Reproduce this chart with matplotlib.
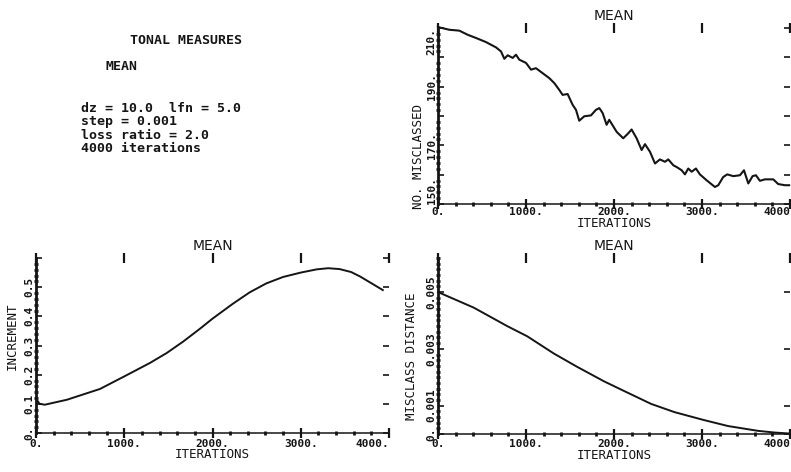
import matplotlib
matplotlib.use("Agg")
import matplotlib.pyplot as plt
from matplotlib.ticker import FixedLocator, FixedFormatter, MultipleLocator

MONO = "DejaVu Sans Mono"
INK = "#151515"

# ---- x axis (iterations), shared by all panels ----
iter_ticks = [0, 1000, 2000, 3000, 4000]
iter_labels_left = ["0.", "1000.", "2000.", "3000.", "4000."]
iter_labels_right = ["0.", "1000.", "2000.", "3000.", "4000"]

# ---- number misclassed ----
mis_iter = [0, 15, 129, 242, 337, 432, 545, 659, 716, 754, 792, 849, 886, 924,
            1000, 1057, 1113, 1189, 1265, 1322, 1378, 1416, 1473, 1530, 1568,
            1605, 1662, 1738, 1795, 1833, 1871, 1916, 1946, 2030, 2105, 2162,
            2200, 2257, 2314, 2352, 2409, 2466, 2522, 2579, 2617, 2674, 2712,
            2769, 2806, 2844, 2882, 2931, 2976, 3052, 3147, 3185, 3241, 3287,
            3355, 3431, 3477, 3526, 3575, 3613, 3658, 3715, 3810, 3866, 3942,
            3990]
mis_count = [210.5, 210.2, 209.4, 209.1, 207.7, 206.6, 205.2, 203.4, 202.0,
             199.5, 200.7, 199.8, 200.9, 199.2, 198.1, 195.8, 196.3, 194.6,
             192.9, 191.2, 188.9, 187.2, 187.5, 183.8, 182.1, 178.4, 179.9,
             180.2, 182.1, 182.7, 181.0, 177.0, 178.7, 174.6, 172.4, 174.1,
             175.4, 172.4, 168.4, 170.4, 167.8, 163.8, 165.2, 164.4, 165.2,
             163.2, 162.6, 161.5, 160.1, 162.1, 161.0, 162.1, 160.1, 158.1,
             155.8, 156.4, 159.2, 160.1, 159.5, 159.8, 161.5, 157.0, 159.5,
             159.8, 157.9, 158.4, 158.4, 156.8, 156.4, 156.4]
count_ticks = [150, 160, 170, 180, 190, 200, 210]
count_labels = ["150.", "", "170.", "", "190.", "", "210."]

# ---- increment ----
inc_iter = [0, 40, 100, 350, 725, 1000, 1290, 1480, 1670, 1860, 2000, 2230,
            2420, 2610, 2800, 3000, 3180, 3310, 3440, 3570, 3670, 3820, 3930]
inc_val = [0.118, 0.100, 0.097, 0.114, 0.151, 0.194, 0.240, 0.274, 0.314,
           0.358, 0.392, 0.443, 0.482, 0.513, 0.535, 0.550, 0.561, 0.565,
           0.562, 0.552, 0.537, 0.510, 0.490]
inc_ticks = [0.0, 0.1, 0.2, 0.3, 0.4, 0.5, 0.6]
inc_labels = ["0.", "0.1", "0.2", "0.3", "0.4", "0.5", ""]

# ---- misclass distance ----
dist_iter = [0, 407, 787, 1015, 1319, 1585, 1890, 2118, 2422, 2688, 3011,
             3296, 3639, 3829, 3981, 4000]
dist_val = [0.00500, 0.00445, 0.00380, 0.00344, 0.00283, 0.00236, 0.00185,
            0.00151, 0.00106, 0.00077, 0.00050, 0.00028, 0.00011, 0.00005,
            0.00002, 0.00002]
dist_ticks = [0.0, 0.001, 0.003, 0.005]
dist_labels = ["0.", "0.001", "0.003", "0.005"]

fig = plt.figure(figsize=(7.91, 4.72), dpi=100)
fig.patch.set_facecolor("white")


def px_axes(left, top, right, bottom):
    W, H = 791.0, 472.0
    return fig.add_axes([left / W, 1 - bottom / H, (right - left) / W,
                         (bottom - top) / H])


def style(ax, ylim, yticks, ylabels, yminor, ylabel, ylabel_xy, xlabels,
          xpad=1, xlabelpad=-1):
    ax.set_xlim(0, 4000)
    ax.set_ylim(*ylim)
    for s in ("top", "right"):
        ax.spines[s].set_visible(False)
    ax.spines["left"].set_linewidth(2.0)
    ax.spines["bottom"].set_linewidth(1.1)
    for s in ("left", "bottom"):
        ax.spines[s].set_color(INK)
    ax.xaxis.set_major_locator(FixedLocator(iter_ticks))
    ax.xaxis.set_major_formatter(FixedFormatter(xlabels))
    ax.xaxis.set_minor_locator(MultipleLocator(200))
    ax.yaxis.set_major_locator(FixedLocator(yticks))
    ax.yaxis.set_major_formatter(FixedFormatter(ylabels))
    ax.yaxis.set_minor_locator(MultipleLocator(yminor))
    ax.tick_params(which="major", direction="inout", length=7, width=1.6,
                   color=INK, top=True, right=True, labelsize=8,
                   labelcolor=INK)
    ax.tick_params(axis="x", which="major", pad=xpad)
    ax.tick_params(axis="y", which="major", pad=1)
    ax.tick_params(axis="y", which="major", right=True, direction="in",
                   length=4, width=1.2)
    ax.tick_params(which="minor", direction="inout", length=3, width=2.0,
                   color=INK, top=False, right=False)
    for lab in ax.get_xticklabels():
        lab.set_fontfamily(MONO)
        lab.set_fontweight("bold")
    ax.get_xticklabels()[-1].set_horizontalalignment("right")
    for lab in ax.get_yticklabels():
        lab.set_fontfamily(MONO)
        lab.set_fontweight("bold")
        lab.set_rotation(90)
        lab.set_verticalalignment("center")
    ax.set_xlabel("ITERATIONS", fontfamily=MONO, fontsize=9, color=INK,
                  labelpad=xlabelpad)
    ax.set_ylabel(ylabel, fontfamily=MONO, fontsize=9, color=INK,
                  va="center")
    ax.yaxis.set_label_coords(*ylabel_xy)
    ax.set_facecolor("none")
    ax.text(0.5, 1.03, "MEAN", transform=ax.transAxes, ha="center",
            va="bottom", fontsize=10, color=INK)


# number misclassed
ax1 = px_axes(438, 28, 790, 204)
ax1.plot(mis_iter, mis_count, color=INK, lw=1.5, clip_on=False)
style(ax1, (150, 210), count_ticks, count_labels, 2, "NO. MISCLASSED",
      (-0.055, 0.27), iter_labels_right, xpad=-1, xlabelpad=0)
ax1.get_yticklabels()[-1].set_verticalalignment("top")
ax1.get_yticklabels()[0].set_verticalalignment("bottom")

# increment
ax2 = px_axes(36, 258, 389, 433)
ax2.plot(inc_iter, inc_val, color=INK, lw=1.4, clip_on=False)
style(ax2, (0, 0.6), inc_ticks, inc_labels, 0.02, "INCREMENT",
      (-0.068, 0.55), iter_labels_left)

# misclass distance
ax3 = px_axes(438, 258, 790, 434)
ax3.plot(dist_iter, dist_val, color=INK, lw=1.4, clip_on=False)
style(ax3, (0, 0.0062), dist_ticks, dist_labels, 0.0002, "MISCLASS DISTANCE",
      (-0.074, 0.44), iter_labels_right, xpad=0, xlabelpad=0)

# run description
fig.text(130 / 791, 1 - 40 / 472, "TONAL MEASURES", fontfamily=MONO,
         fontweight="bold", fontsize=9.5, color=INK, va="center")
fig.text(105 / 791, 1 - 67 / 472, "MEAN", fontfamily=MONO,
         fontweight="bold", fontsize=9.5, color=INK, va="center")
desc_lines = ["dz = 10.0  lfn = 5.0", "step = 0.001", "loss ratio = 2.0",
              "4000 iterations"]
for i, line in enumerate(desc_lines):
    fig.text(81 / 791, 1 - (108 + 13.6 * i) / 472, line, fontfamily=MONO,
             fontweight="bold", fontsize=9.5, color=INK, va="center")

fig.savefig("out.png", dpi=100, facecolor="white")
